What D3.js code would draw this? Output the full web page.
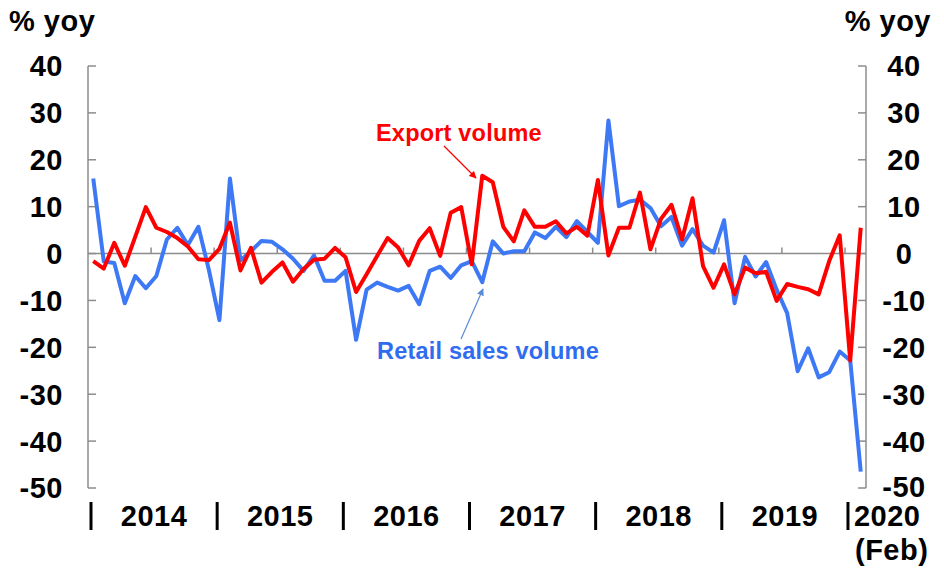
<!DOCTYPE html>
<html>
<head>
<meta charset="utf-8">
<script src="https://cdn.jsdelivr.net/npm/d3@7"></script>
<style>
  body { margin: 0; background: #fff; }
  svg text { font-family: "Liberation Sans", Arial, sans-serif; font-weight: bold; }
</style>
</head>
<body>
<svg id="chart" width="944" height="573"></svg>
<script>
// Monthly, Jan 2014 .. Feb 2020 (% yoy)
const years = ['2014', '2015', '2016', '2017', '2018', '2019']
const y_ticks = [40, 30, 20, 10, 0, -10, -20, -30, -40, -50]

const retail_sales = [
  16.0, -1.7, -2.0, -10.6, -4.8, -7.4, -4.8, 3.0, 5.5, 1.8, 5.7, -3.5,
  -14.2, 16.0, -1.5, 0.5, 2.7, 2.5, 0.9, -1.1, -3.7, -0.4, -5.8, -5.8,
  -3.7, -18.4, -7.7, -6.2, -7.1, -7.9, -6.9, -10.8, -3.7, -2.8, -5.2, -2.5,
  -1.6, -6.1, 2.6, 0.0, 0.5, 0.5, 4.5, 3.3, 5.7, 3.5, 6.9, 4.6,
  2.3, 28.4, 10.1, 11.1, 11.5, 9.7, 5.8, 7.8, 1.7, 5.2, 1.7, 0.2,
  7.1, -10.6, -0.7, -4.9, -1.8, -7.7, -12.7, -25.1, -20.2, -26.4, -25.3, -20.9,
  -22.8, -46.5
]
const export_volume = [
  -1.6, -3.2, 2.3, -2.6, 3.6, 9.9, 5.5, 4.6, 3.3, 1.5, -1.2, -1.4,
  1.0, 6.6, -3.6, 1.2, -6.2, -3.9, -1.9, -6.0, -3.3, -1.3, -1.1, 1.2,
  -0.8, -8.2, -4.4, -0.5, 3.3, 1.3, -2.5, 2.7, 5.4, -0.5, 8.7, 9.9,
  -2.3, 16.6, 15.2, 5.7, 2.6, 9.2, 5.7, 5.7, 6.9, 4.3, 5.7, 3.8,
  15.7, -0.4, 5.5, 5.5, 13.0, 0.9, 7.4, 10.4, 3.0, 11.8, -2.7, -7.3,
  -2.3, -8.7, -3.0, -4.2, -3.9, -10.1, -6.5, -7.1, -7.6, -8.7, -1.6, 3.9,
  -22.8, 5.5
]

const n_months = retail_sales.length
const svg = d3.select('#chart')
const plot = { left: 88, right: 866, top: 66, bottom: 488 }
const axis_color = '#8c8c8c'
const blue = '#3d78f5'
const red = '#ff0000'
const big_font = '29px'

let x = d3.scaleLinear().domain([0, n_months]).range([plot.left, plot.right])
let y = d3.scaleLinear().domain([-50, 40]).range([plot.bottom, plot.top])

// Left & right axes (ticks inside)
for (let side of ['left', 'right']) {
  let ax = side == 'left' ? plot.left : plot.right
  let dir = side == 'left' ? 1 : -1
  svg.append('line')
    .attr('x1', ax).attr('x2', ax)
    .attr('y1', y(40)).attr('y2', y(-50))
    .style('stroke', axis_color).style('stroke-width', 1.5)
  svg.selectAll(null).data(y_ticks).enter()
    .append('line')
    .attr('x1', ax).attr('x2', ax + dir * 8)
    .attr('y1', d => y(d)).attr('y2', d => y(d))
    .style('stroke', axis_color).style('stroke-width', 1.5)
  svg.selectAll(null).data(y_ticks).enter()
    .append('text')
    .attr('x', side == 'left' ? 63 : 904)
    .attr('y', d => y(d))
    .attr('dy', d => (side == 'right' && d == -50) ? '0.3em' : '0.36em')
    .attr('text-anchor', side == 'left' ? 'end' : 'middle')
    .style('font-size', big_font)
    .style('letter-spacing', '0.5px')
    .text(d => d)
  svg.append('text')
    .attr('x', side == 'left' ? 9 : 931)
    .attr('y', 31)
    .attr('text-anchor', side == 'left' ? 'start' : 'end')
    .style('font-size', big_font)
    .style('letter-spacing', '0.5px')
    .text('% yoy')
}

// Zero line with half-year ticks
svg.append('line')
  .attr('x1', plot.left).attr('x2', plot.right)
  .attr('y1', y(0)).attr('y2', y(0))
  .style('stroke', axis_color).style('stroke-width', 1.5)
svg.selectAll(null).data(d3.range(6, n_months, 6)).enter()
  .append('line')
  .attr('x1', d => x(d)).attr('x2', d => x(d))
  .attr('y1', y(0)).attr('y2', y(0) - 6)
  .style('stroke', axis_color).style('stroke-width', 1.5)

// Year separators and labels
svg.selectAll(null).data(d3.range(0, n_months, 12)).enter()
  .append('line')
  .attr('x1', d => x(d) + 3).attr('x2', d => x(d) + 3)
  .attr('y1', 502).attr('y2', 530)
  .style('stroke', '#000').style('stroke-width', 3)
svg.selectAll(null).data(years).enter()
  .append('text')
  .attr('x', (d, i) => x(i * 12 + 6) + 3)
  .attr('y', 526)
  .attr('text-anchor', 'middle')
  .style('font-size', big_font)
  .style('letter-spacing', '0.5px')
  .text(d => d)
svg.append('text')
  .attr('x', x(72) + 9).attr('y', 526)
  .style('font-size', big_font)
  .style('letter-spacing', '0.5px')
  .text('2020')
svg.append('text')
  .attr('x', x(72) + 10).attr('y', 560)
  .style('font-size', big_font)
  .style('letter-spacing', '0.5px')
  .text('(Feb)')

// Lines
let line = d3.line()
  .x((d, i) => x(i + 0.5))
  .y(d => y(d))
  .curve(d3.curveLinear)

svg.append('path')
  .datum(retail_sales)
  .attr('d', line)
  .style('fill', 'none').style('stroke', blue)
  .style('stroke-width', 4).style('stroke-linejoin', 'round')

svg.append('path')
  .datum(export_volume)
  .attr('d', line)
  .style('fill', 'none').style('stroke', red)
  .style('stroke-width', 4).style('stroke-linejoin', 'round')

// Annotations
let defs = svg.append('defs')
for (let [id, col] of [['arrow-red', red], ['arrow-blue', '#5b8ad6']]) {
  defs.append('marker')
    .attr('id', id)
    .attr('viewBox', '0 0 10 10')
    .attr('refX', 9).attr('refY', 5)
    .attr('markerWidth', 6).attr('markerHeight', 6)
    .attr('orient', 'auto')
    .append('path')
    .attr('d', 'M0,0 L10,5 L0,10 z')
    .style('fill', col)
}

svg.append('text')
  .attr('x', 376).attr('y', 141)
  .style('font-size', '23.5px').style('fill', red)
  .style('letter-spacing', '0.2px')
  .text('Export volume')
svg.append('line')
  .attr('x1', 444).attr('y1', 146)
  .attr('x2', 476).attr('y2', 178)
  .style('stroke', red).style('stroke-width', 1.2)
  .attr('marker-end', 'url(#arrow-red)')

svg.append('text')
  .attr('x', 377).attr('y', 359)
  .style('font-size', '23.5px').style('fill', '#2f6cf0')
  .style('letter-spacing', '0.2px')
  .text('Retail sales volume')
svg.append('line')
  .attr('x1', 461).attr('y1', 339)
  .attr('x2', 483).attr('y2', 289)
  .style('stroke', '#5b8ad6').style('stroke-width', 1.2)
  .attr('marker-end', 'url(#arrow-blue)')
</script>
</body>
</html>
